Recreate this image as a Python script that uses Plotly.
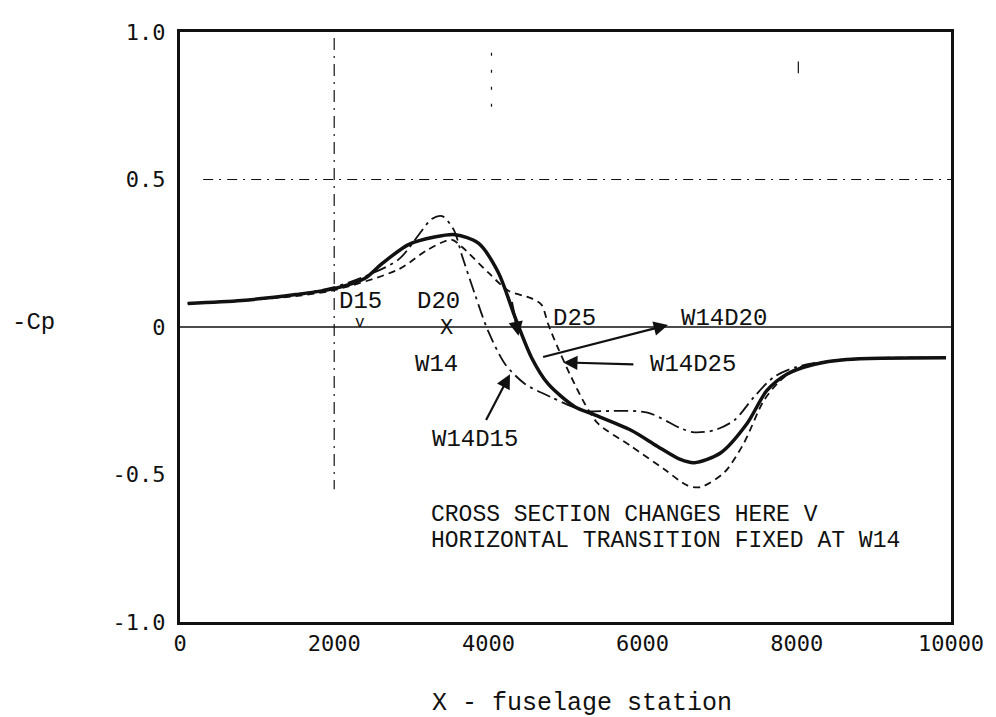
import plotly.graph_objects as go

# ---- data ----
x_w14d20 = [100, 800, 1500, 2000, 2400, 2620, 2970, 3300, 3570, 3870, 4130, 4350, 4560, 4775,
            5120, 5330, 5850, 6190, 6490, 6670, 7010, 7355, 7610, 7870, 8220, 8645, 9935]
y_w14d20 = [0.08, 0.09, 0.11, 0.13, 0.165, 0.215, 0.28, 0.305, 0.313, 0.284, 0.184, 0.03,
            -0.104, -0.193, -0.27, -0.293, -0.35, -0.404, -0.449, -0.46, -0.427, -0.327,
            -0.216, -0.16, -0.127, -0.11, -0.104]

x_w14d15 = [100, 800, 1500, 2000, 2410, 2840, 3270, 3400, 3550, 3660, 3830, 4000, 4220, 4475,
            4815, 5250, 5460, 6065, 6490, 6670, 6930, 7190, 7445, 7700, 8000, 8600, 9935]
y_w14d15 = [0.08, 0.09, 0.11, 0.135, 0.173, 0.23, 0.367, 0.376, 0.33, 0.24, 0.107, -0.016,
            -0.127, -0.193, -0.238, -0.285, -0.285, -0.29, -0.343, -0.357, -0.35, -0.316,
            -0.237, -0.17, -0.135, -0.11, -0.104]

x_w14d25 = [100, 800, 1500, 2000, 2840, 3200, 3520, 3650, 4000, 4260, 4560, 4690, 4775, 4900,
            5075, 5250, 5420, 5850, 6280, 6580, 6750, 7060, 7315, 7570, 7780, 8000, 8600, 9935]
y_w14d25 = [0.08, 0.09, 0.105, 0.125, 0.196, 0.26, 0.296, 0.273, 0.184, 0.123, 0.097, 0.075,
            0.01, -0.07, -0.17, -0.26, -0.327, -0.404, -0.482, -0.537, -0.543, -0.493, -0.393,
            -0.25, -0.183, -0.14, -0.11, -0.104]

x_ticks = [0, 2000, 4000, 6000, 8000, 10000]
x_ticktext = ["0", "2000", "4000", "6000", "8000", "10000"]
y_ticks = [-1.0, -0.5, 0, 0.5, 1.0]
y_ticktext = ["-1.0", "-0.5", "0", "0.5", "1.0"]

INK = "#111111"
SANS_MONO = "DejaVu Sans Mono"
TYPE = "Liberation Mono"

fig = go.Figure()
fig.add_trace(go.Scatter(x=x_w14d15, y=y_w14d15, mode="lines", name="W14D15",
                         line=dict(color=INK, width=1.8, dash="14px,5px,3px,5px", shape="spline", smoothing=0.8)))
fig.add_trace(go.Scatter(x=x_w14d25, y=y_w14d25, mode="lines", name="W14D25",
                         line=dict(color=INK, width=1.8, dash="7px,5px", shape="spline", smoothing=0.8)))
fig.add_trace(go.Scatter(x=x_w14d20, y=y_w14d20, mode="lines", name="W14D20",
                         line=dict(color=INK, width=3.5, shape="spline", smoothing=0.8)))

shapes = [
    dict(type="line", xref="x", yref="y", x0=0, x1=10000, y0=0, y1=0,
         line=dict(color=INK, width=1.5)),
    dict(type="line", xref="x", yref="y", x0=300, x1=10000, y0=0.5, y1=0.5,
         line=dict(color=INK, width=1.2, dash="10px,6px,2px,6px")),
    dict(type="line", xref="x", yref="y", x0=2000, x1=2000, y0=0.98, y1=-0.55,
         line=dict(color=INK, width=1.2, dash="12px,6px,2px,6px")),
    dict(type="line", xref="x", yref="y", x0=4040, x1=4040, y0=0.93, y1=0.7,
         line=dict(color=INK, width=1.2, dash="3px,14px")),
    dict(type="line", xref="x", yref="y", x0=8020, x1=8020, y0=0.9, y1=0.86,
         line=dict(color=INK, width=1.2)),
]

ann = []
def label(text, x, y, size=24, font=TYPE, xanchor="center"):
    ann.append(dict(text=text, x=x, y=y, xref="x", yref="y", showarrow=False,
                    xanchor=xanchor, yanchor="middle",
                    font=dict(family=font, size=size, color=INK)))

label("D15", 2345, 0.085)
label("D20", 3355, 0.085)
label("D25", 5120, 0.03)
label("W14D20", 7060, 0.03)
label("W14D25", 6650, -0.127)
label("W14", 3330, -0.127)
label("W14D15", 3830, -0.383)
label("v", 2330, 0.015, size=16)
label("X", 3460, -0.005, size=22)
label("CROSS SECTION CHANGES HERE V", 3226, -0.637, size=23, xanchor="left")
label("HORIZONTAL TRANSITION FIXED AT W14", 3226, -0.727, size=23, xanchor="left")

def arrow(x_tip, y_tip, x_tail, y_tail):
    ann.append(dict(text="", x=x_tip, y=y_tip, ax=x_tail, ay=y_tail, xref="x", yref="y",
                    axref="x", ayref="y", showarrow=True, arrowhead=2, arrowsize=1.3,
                    arrowwidth=2.2, arrowcolor=INK))

arrow(6330, 0.007, 4690, -0.103)      # W14D20 pointer
arrow(4970, -0.12, 5900, -0.127)      # W14D25 pointer
arrow(4280, -0.16, 3960, -0.32)       # W14D15 pointer
arrow(4390, -0.03, 4300, 0.09)        # direction mark on solid curve

ann.append(dict(text="X - fuselage station", x=0.521, y=-0.138, xref="paper", yref="paper",
                showarrow=False, xanchor="center", yanchor="middle",
                font=dict(family=TYPE, size=25, color=INK)))
ann.append(dict(text="-Cp", x=-0.19, y=0.507, xref="paper", yref="paper",
                showarrow=False, xanchor="center", yanchor="middle",
                font=dict(family=TYPE, size=24, color=INK)))

fig.update_layout(
    width=988, height=709,
    margin=dict(l=172, r=41, t=14, b=95),
    plot_bgcolor="white", paper_bgcolor="white",
    showlegend=False,
    shapes=shapes, annotations=ann,
    xaxis=dict(range=[0, 10000], tickvals=x_ticks, ticktext=x_ticktext,
               showgrid=False, zeroline=False, showline=True, mirror=True,
               linecolor=INK, linewidth=3, ticks="", ticklabelstandoff=0,
               tickfont=dict(family=SANS_MONO, size=22, color=INK)),
    yaxis=dict(range=[-1.0, 1.0], tickvals=y_ticks, ticktext=y_ticktext,
               showgrid=False, zeroline=False, showline=True, mirror=True,
               linecolor=INK, linewidth=3, ticks="", ticklabelstandoff=7,
               tickfont=dict(family=SANS_MONO, size=22, color=INK)),
)

fig.write_html("out.html")
